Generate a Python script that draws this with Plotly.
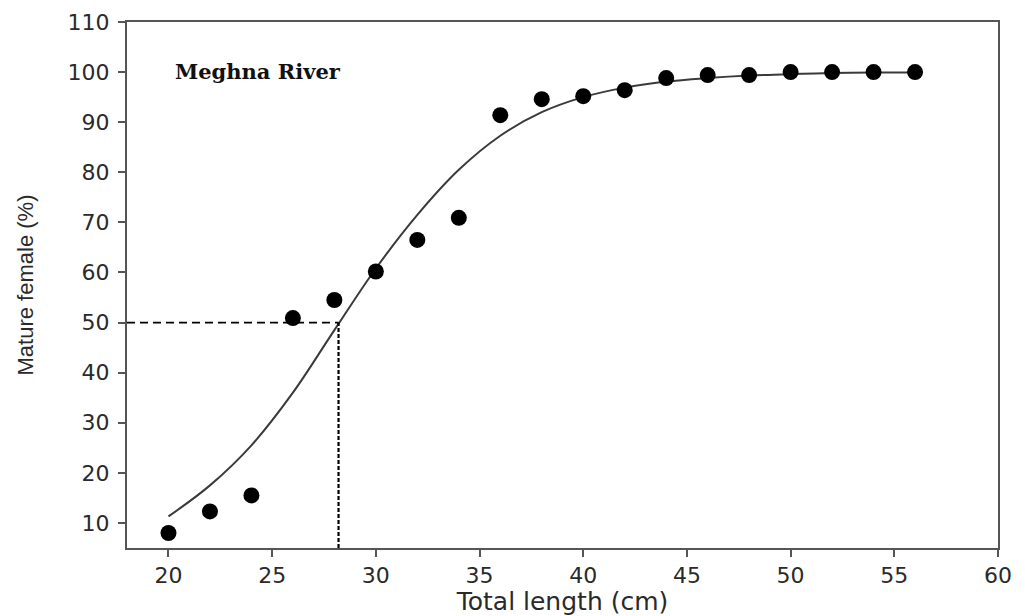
import plotly.graph_objects as go

# Observed proportion of mature females
length_cm = [20, 22, 24, 26, 28, 30, 32, 34, 36, 38, 40, 42, 44, 46, 48, 50, 52, 54, 56]
mature_pct = [8.0, 12.3, 15.5, 50.9, 54.5, 60.2, 66.5, 70.9, 91.4, 94.6, 95.2, 96.4, 98.8, 99.4, 99.4, 100, 100, 100, 100]

# Fitted maturity curve
curve_x = [20, 22, 24, 26, 28, 30, 32, 34, 36, 38, 40, 42, 44, 46, 48, 50, 52, 54, 56]
curve_y = [11.3, 17.5, 25.5, 36.0, 48.5, 60.8, 71.5, 80.5, 87.3, 92.0, 95.0, 96.9, 98.1, 98.8, 99.3, 99.6, 99.8, 99.9, 99.9]

L50 = 28.2
P50 = 50

x_ticks = [20, 25, 30, 35, 40, 45, 50, 55, 60]
y_ticks = [10, 20, 30, 40, 50, 60, 70, 80, 90, 100, 110]
x_range = [18, 60]
y_range = [5, 110]

fig = go.Figure()
fig.add_trace(go.Scatter(x=curve_x, y=curve_y, mode="lines",
                         line=dict(color="#3a3a3a", width=2, shape="spline"),
                         hoverinfo="skip", showlegend=False))
fig.add_trace(go.Scatter(x=length_cm, y=mature_pct, mode="markers",
                         marker=dict(color="black", size=16, symbol="circle"),
                         showlegend=False))
# L50 guide lines
fig.add_trace(go.Scatter(x=[x_range[0], L50], y=[P50, P50], mode="lines",
                         line=dict(color="black", width=1.8, dash="8px,5px"),
                         hoverinfo="skip", showlegend=False))
fig.add_trace(go.Scatter(x=[L50, L50], y=[y_range[0], P50], mode="lines",
                         line=dict(color="black", width=2.2, dash="4px,2px"),
                         hoverinfo="skip", showlegend=False))

fig.add_annotation(x=0.053, y=0.905, xref="paper", yref="paper",
                   text="<b>Meghna River</b>", showarrow=False, xanchor="left",
                   yanchor="middle",
                   font=dict(family="DejaVu Serif", size=21, color="#111111"))

axis_common = dict(showgrid=False, zeroline=False, showline=True, mirror=True,
                   linecolor="#555555", linewidth=2, ticks="outside", ticklen=7,
                   tickwidth=1.5, tickcolor="#555555",
                   tickfont=dict(family="DejaVu Sans", size=22, color="#2a2a2a"))

fig.update_xaxes(range=x_range, tickvals=x_ticks, ticktext=[str(v) for v in x_ticks],
                 title=dict(text="Total length (cm)", standoff=2,
                            font=dict(family="DejaVu Sans", size=25, color="#2a2a2a")),
                 **axis_common)
fig.update_yaxes(range=y_range, tickvals=y_ticks, ticktext=[str(v) for v in y_ticks],
                 ticklabelstandoff=4,
                 title=dict(text="Mature female (%)", standoff=28,
                            font=dict(family="Liberation Sans", size=22, color="#2a2a2a")),
                 **axis_common)

fig.update_layout(width=1017, height=608, plot_bgcolor="white", paper_bgcolor="white",
                  margin=dict(l=119, r=27, t=14, b=68, autoexpand=False), showlegend=False)

fig.write_html("out.html")
